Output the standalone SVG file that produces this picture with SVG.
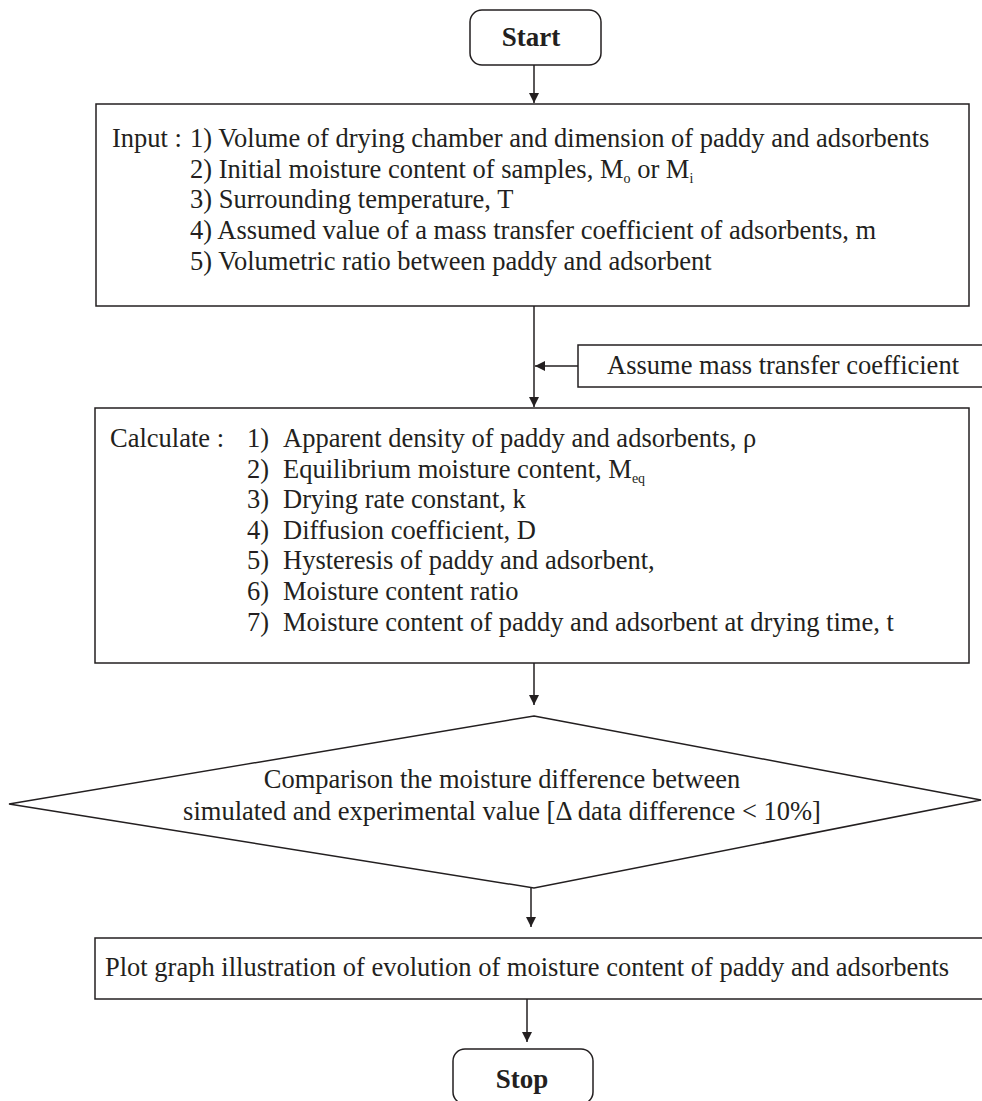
<svg xmlns="http://www.w3.org/2000/svg" width="982" height="1101" viewBox="0 0 982 1101">
<defs>
<style>
.box{fill:#fff;stroke:#231f20;stroke-width:1.5}
.ln{fill:none;stroke:#231f20;stroke-width:1.5}
.t{font-family:"Liberation Serif","Times New Roman",serif;font-size:26.5px;fill:#231f20}
.b{font-weight:bold;font-size:27px}
.sub{font-size:14px}
</style>
<marker id="ah" viewBox="0 0 10 10" refX="10" refY="5" markerWidth="10" markerHeight="10" markerUnits="userSpaceOnUse" orient="auto">
<path d="M0,0 L10,5 L0,10 Z" fill="#231f20"/>
</marker>
</defs>
<rect width="982" height="1101" fill="#fff"/>
<g id="connectors">
<line class="ln" x1="534" y1="65" x2="534" y2="103" marker-end="url(#ah)"/>
<line class="ln" x1="534" y1="306" x2="534" y2="407" marker-end="url(#ah)"/>
<line class="ln" x1="578" y1="366" x2="535" y2="366" marker-end="url(#ah)"/>
<line class="ln" x1="534" y1="663" x2="534" y2="705" marker-end="url(#ah)"/>
<line class="ln" x1="531" y1="888" x2="531" y2="927" marker-end="url(#ah)"/>
<line class="ln" x1="527" y1="999" x2="527" y2="1042" marker-end="url(#ah)"/>
</g>
<g id="start">
<rect class="box" x="470" y="10" width="131" height="55" rx="12"/>
<text class="t b" x="531" y="46" text-anchor="middle">Start</text>
</g>
<g id="input">
<rect class="box" x="96" y="104" width="873" height="202"/>
<text class="t" x="112" y="147">Input :</text>
<text class="t" x="190" y="147">1) Volume of drying chamber and dimension of paddy and adsorbents</text>
<text class="t" x="190" y="178">2) Initial moisture content of samples, M<tspan class="sub" dy="5">o</tspan><tspan dy="-5"> or M</tspan><tspan class="sub" dy="5">i</tspan></text>
<text class="t" x="190" y="208">3) Surrounding temperature, T</text>
<text class="t" x="190" y="239">4) Assumed value of a mass transfer coefficient of adsorbents, m</text>
<text class="t" x="190" y="270">5) Volumetric ratio between paddy and adsorbent</text>
</g>
<g id="assume">
<rect class="box" x="578" y="345" width="420" height="42"/>
<text class="t" x="607" y="374">Assume mass transfer coefficient</text>
</g>
<g id="calculate">
<rect class="box" x="95" y="408" width="874" height="255"/>
<text class="t" x="110" y="447">Calculate :</text>
<text class="t" x="247" y="447">1)</text><text class="t" x="283" y="447">Apparent density of paddy and adsorbents, ρ</text>
<text class="t" x="247" y="478">2)</text><text class="t" x="283" y="478">Equilibrium moisture content, M<tspan class="sub" dy="5">eq</tspan></text>
<text class="t" x="247" y="508">3)</text><text class="t" x="283" y="508">Drying rate constant, k</text>
<text class="t" x="247" y="539">4)</text><text class="t" x="283" y="539">Diffusion coefficient, D</text>
<text class="t" x="247" y="569">5)</text><text class="t" x="283" y="569">Hysteresis of paddy and adsorbent,</text>
<text class="t" x="247" y="600">6)</text><text class="t" x="283" y="600">Moisture content ratio</text>
<text class="t" x="247" y="631">7)</text><text class="t" x="283" y="631">Moisture content of paddy and adsorbent at drying time, t</text>
</g>
<g id="decision">
<polygon class="box" points="534,716 981,800 534,888 9,804"/>
<text class="t" x="502" y="788" text-anchor="middle">Comparison the moisture difference between</text>
<text class="t" x="502" y="820" text-anchor="middle">simulated and experimental value [Δ data difference &lt; 10%]</text>
</g>
<g id="plot">
<rect class="box" x="95" y="938" width="900" height="61"/>
<text class="t" x="105" y="976">Plot graph illustration of evolution of moisture content of paddy and adsorbents</text>
</g>
<g id="stop">
<rect class="box" x="453" y="1049" width="140" height="55" rx="12"/>
<text class="t b" x="522" y="1088" text-anchor="middle">Stop</text>
</g>
</svg>
